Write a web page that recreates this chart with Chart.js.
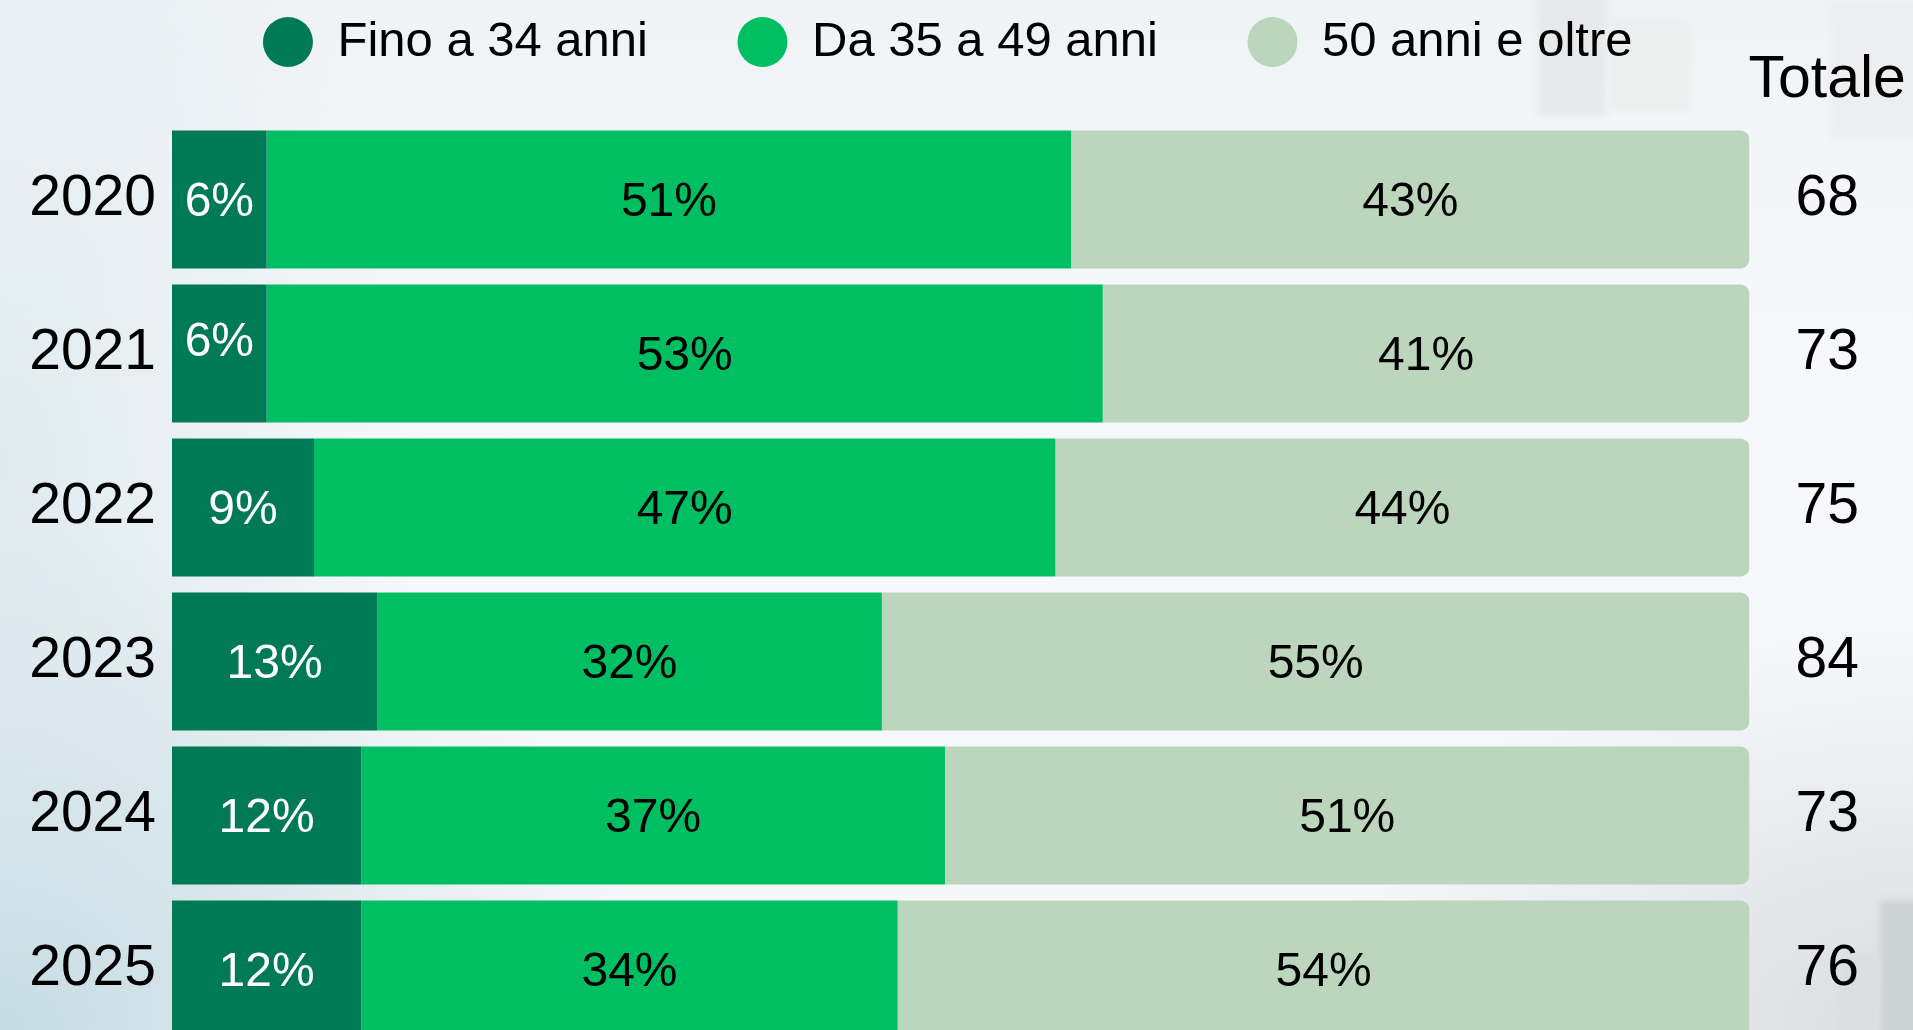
<!DOCTYPE html>
<html>
<head>
<meta charset="utf-8">
<script src="https://cdn.jsdelivr.net/npm/chart.js@4.4.1/dist/chart.umd.min.js"></script>
<style>
  html, body { margin: 0; padding: 0; width: 1913px; height: 1030px; overflow: hidden; }
  body {
    position: relative;
    background:
      radial-gradient(ellipse 650px 520px at 0% 100%, rgba(196,219,226,0.95), rgba(196,219,226,0) 100%),
      radial-gradient(ellipse 420px 700px at 0% 45%, rgba(214,229,234,0.7), rgba(214,229,234,0) 100%),
      radial-gradient(ellipse 600px 400px at 100% 100%, rgba(214,219,222,0.9), rgba(214,219,222,0) 100%),
      linear-gradient(180deg, #f0f3f6 0%, #f7f8fb 35%, #f5f7f9 100%);
  }
  .blk { position: absolute; filter: blur(3px); }
  #c { position: absolute; left: 0; top: -72px; width: 1913px; height: 1132px; }
</style>
</head>
<body>
<div class="blk" style="left:1537px;top:-10px;width:70px;height:125px;background:#e7e9ea;"></div>
<div class="blk" style="left:1610px;top:20px;width:80px;height:90px;background:#eceded;"></div>
<div class="blk" style="left:1830px;top:0px;width:90px;height:140px;background:#edeeef;"></div>
<div class="blk" style="left:1880px;top:900px;width:45px;height:140px;background:#cdd2d5;"></div>
<div class="blk" style="left:1840px;top:955px;width:40px;height:90px;background:#dadee0;"></div>
<canvas id="c" width="1913" height="1132"></canvas>
<script>
// ---- data ----
const categories = ['2020', '2021', '2022', '2023', '2024', '2025'];
const seriesNames = ['Fino a 34 anni', 'Da 35 a 49 anni', '50 anni e oltre'];
const under35 = [6, 6, 9, 13, 12, 12];
const from35to49 = [51, 53, 47, 32, 37, 34];
const over50 = [43, 41, 44, 55, 51, 54];
const totals = [68, 73, 75, 84, 73, 76];
const totalsHeader = 'Totale';

const colors = ['#007a55', '#00bf63', '#bcd6bd'];
const labelColors = ['#ffffff', '#000000', '#000000'];
const FONT = '"Liberation Sans", Arial, Helvetica, sans-serif';

Chart.defaults.font.family = FONT;
Chart.defaults.color = '#000';

const segLabels = {
  id: 'segLabels',
  afterDatasetsDraw(chart, args, opts) {
    const ctx = chart.ctx;
    ctx.save();
    ctx.font = '48px ' + FONT;
    ctx.textAlign = 'center';
    ctx.textBaseline = 'middle';
    chart.data.datasets.forEach((ds, di) => {
      const meta = chart.getDatasetMeta(di);
      meta.data.forEach((bar, i) => {
        const p = bar.getProps(['x', 'base', 'y'], true);
        const nudge = (opts.nudge && opts.nudge[di + '-' + i]) || 0;
        ctx.fillStyle = labelColors[di];
        ctx.fillText(ds.data[i] + '%', (p.x + p.base) / 2, p.y + 3 + nudge);
      });
    });
    const s = chart.scales.y2;
    ctx.font = '57px ' + FONT;
    let widest = 0;
    totals.forEach(t => { widest = Math.max(widest, ctx.measureText(String(t)).width); });
    const cx = s.left + s.options.ticks.padding + widest / 2;
    ctx.font = '59px ' + FONT;
    ctx.fillStyle = '#000';
    ctx.textBaseline = 'alphabetic';
    ctx.fillText(totalsHeader, cx, 169);
    ctx.restore();
  }
};

const noVPad = (w) => (s) => { s.width = w; s.paddingTop = 0; s.paddingBottom = 0; };

new Chart(document.getElementById('c'), {
  type: 'bar',
  data: {
    labels: categories,
    datasets: [
      { label: seriesNames[0], data: under35, backgroundColor: colors[0], borderWidth: 0 },
      { label: seriesNames[1], data: from35to49, backgroundColor: colors[1], borderWidth: 0 },
      { label: seriesNames[2], data: over50, backgroundColor: colors[2], borderWidth: 0, borderRadius: 9 }
    ]
  },
  options: {
    indexAxis: 'y',
    responsive: false,
    animation: false,
    events: [],
    categoryPercentage: 1,
    barPercentage: 0.896,
    layout: { padding: { left: 0, right: 17.5, top: 0, bottom: 13.5 } },
    scales: {
      x: {
        stacked: true, min: 0, max: 100, position: 'top',
        ticks: { display: false }, grid: { display: false, drawTicks: false }, border: { display: false },
        afterFit: (s) => { s.height = 46; s.paddingLeft = 0; s.paddingRight = 0; }
      },
      y: {
        stacked: true, position: 'left',
        grid: { display: false, drawTicks: false }, border: { display: false },
        ticks: { font: { size: 57 }, color: '#000', padding: 16 },
        afterFit: noVPad(172)
      },
      y2: {
        type: 'category', labels: totals.map(String), position: 'right', offset: true,
        grid: { display: false, drawTicks: false }, border: { display: false },
        ticks: { font: { size: 57 }, color: '#000', padding: 46, crossAlign: 'center' },
        afterFit: noVPad(146)
      }
    },
    plugins: {
      legend: {
        display: true, position: 'top',
        labels: {
          usePointStyle: true, pointStyle: 'circle', pointStyleWidth: 50, boxHeight: 35.36,
          font: { size: 49 }, color: '#000', padding: 89.5
        }
      },
      tooltip: { enabled: false },
      segLabels: { nudge: { '0-1': -14 } }
    }
  },
  plugins: [segLabels]
});
</script>
</body>
</html>
